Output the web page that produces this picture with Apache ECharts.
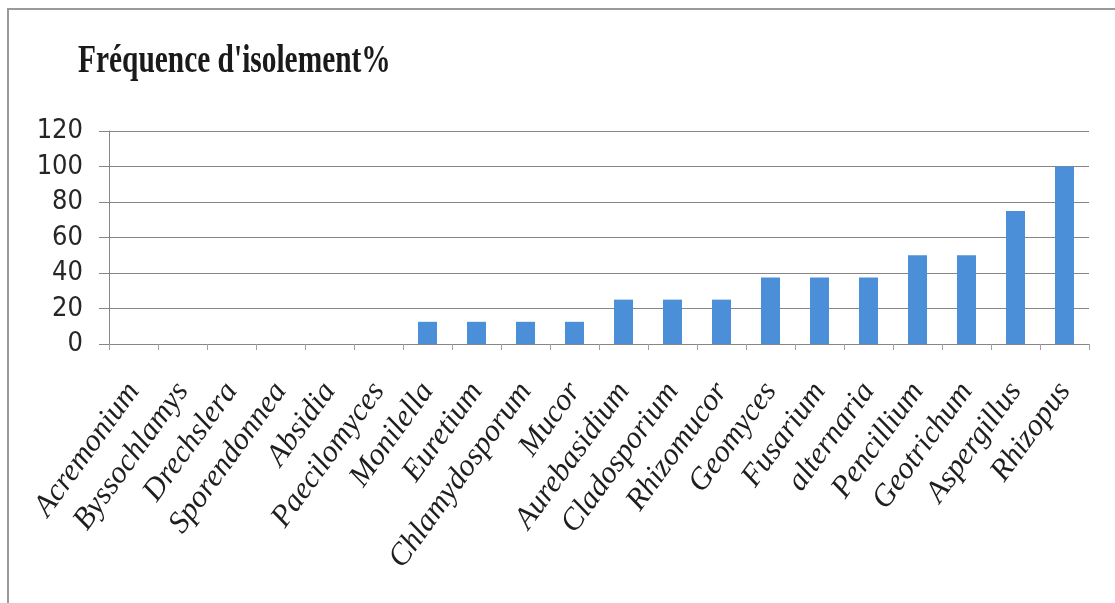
<!DOCTYPE html>
<html>
<head>
<meta charset="utf-8">
<script src="https://cdn.jsdelivr.net/npm/echarts@6/dist/echarts.min.js"></script>
<style>
  html, body { margin: 0; padding: 0; background: #ffffff; }
  #chart { width: 1115px; height: 603px; }
</style>
</head>
<body>
<div id="chart"></div>
<script>
// Fungal genera and their isolation frequency (%)
const genera = [
  'Acremonium', 'Byssochlamys', 'Drechslera', 'Sporendonnea', 'Absidia',
  'Paecilomyces', 'Monilella', 'Euretium', 'Chlamydosporum', 'Mucor',
  'Aurebasidium', 'Cladosporium', 'Rhizomucor', 'Geomyces', 'Fusarium',
  'alternaria', 'Pencillium', 'Geotrichum', 'Aspergillus', 'Rhizopus'
];
const frequency = [
  0, 0, 0, 0, 0,
  0, 12.5, 12.5, 12.5, 12.5,
  25, 25, 25, 37.5, 37.5,
  37.5, 50, 50, 75, 100
];
const yTicks = { min: 0, max: 120, step: 20 };
const titleText = "Fréquence d'isolement%";

const chart = echarts.init(document.getElementById('chart'), null, { renderer: 'canvas' });

const axisGray = '#868686';

chart.setOption({
  animation: false,
  backgroundColor: '#ffffff',
  graphic: [
    {
      // outer frame, open to the right and bottom
      type: 'rect',
      silent: true,
      shape: { x: 8, y: 9, width: 1130, height: 620 },
      style: { fill: 'none', stroke: '#9a9a9a', lineWidth: 2 }
    },
    {
      // heading, drawn slightly tall and narrow
      type: 'text',
      silent: true,
      x: 78,
      y: 42,
      scaleX: 0.98,
      scaleY: 1.3,
      style: {
        text: titleText,
        font: 'bold 30px "Liberation Serif", "Times New Roman", serif',
        fill: '#1a1a1a',
        verticalAlign: 'top'
      }
    }
  ],
  grid: { left: 109, right: 26, top: 131, bottom: 259, containLabel: false },
  xAxis: {
    type: 'category',
    data: genera,
    axisLine: { show: true, lineStyle: { color: axisGray, width: 1 } },
    axisTick: { show: true, alignWithLabel: false, length: 6, lineStyle: { color: '#a0a0a0' } },
    axisLabel: {
      interval: 0,
      rotate: 54,
      margin: 42,
      fontFamily: '"Liberation Serif", "Times New Roman", serif',
      fontStyle: 'italic',
      fontSize: 31,
      color: '#1e1e1e'
    },
    splitLine: { show: false }
  },
  yAxis: {
    type: 'value',
    min: yTicks.min,
    max: yTicks.max,
    interval: yTicks.step,
    axisLine: { show: true, lineStyle: { color: axisGray, width: 1 } },
    axisTick: { show: true, length: 10, lineStyle: { color: axisGray } },
    axisLabel: {
      margin: 26,
      fontFamily: '"Liberation Sans Narrow", "DejaVu Sans Condensed", "Liberation Sans", sans-serif',
      fontSize: 27,
      color: '#262626'
    },
    splitLine: { show: true, lineStyle: { color: axisGray, width: 1 } }
  },
  series: [{
    type: 'bar',
    data: frequency,
    barWidth: 19,
    itemStyle: { color: '#4a8fd8' }
  }]
});
</script>
</body>
</html>
